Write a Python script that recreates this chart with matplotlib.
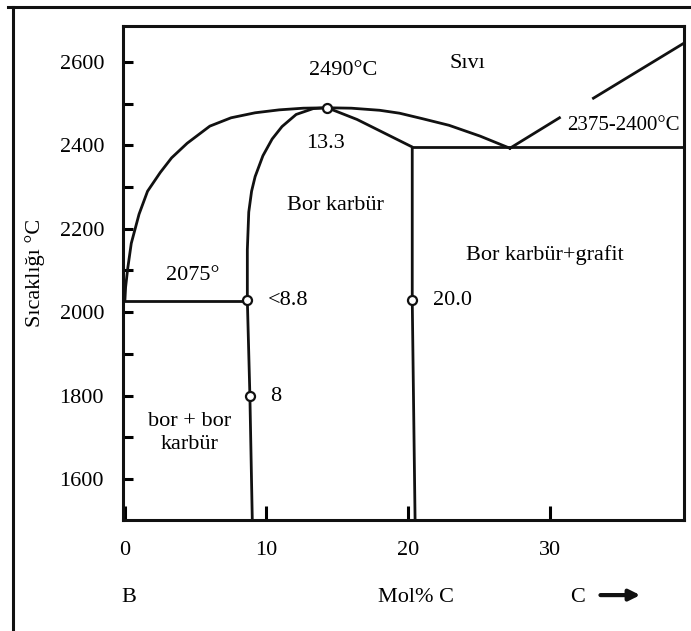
import matplotlib
matplotlib.use("Agg")
import matplotlib.pyplot as plt
from matplotlib.lines import Line2D
from matplotlib.transforms import blended_transform_factory

plt.rcParams['font.family'] = ['Liberation Serif', 'DejaVu Serif']

# B-C phase diagram (mol% C, degrees C)
liq_x = [0.0, 0.05, 0.2, 0.45, 1.0, 1.6, 2.5, 3.3, 4.4, 6.0, 7.5, 9.2, 10.9, 12.6,
         14.3, 16.0, 18.0, 19.4, 21.0, 22.9, 25.1, 27.2]
liq_t = [2028, 2060, 2105, 2165, 2235, 2290, 2335, 2370, 2405, 2446, 2466, 2478, 2485, 2489,
         2490, 2489, 2484, 2477, 2464, 2448, 2422, 2393]

# left boundary of boron carbide field (bottom -> peak)
sol_l_x = [9.0, 8.83, 8.65, 8.65, 8.75, 8.95, 9.2, 9.75, 10.4, 11.1, 12.1, 13.3, 14.3]
sol_l_t = [1502, 1800, 2029, 2150, 2240, 2290, 2325, 2375, 2415, 2445, 2474, 2488, 2490]

# right boundary of boron carbide field (peak -> bottom)
sol_r_x = [14.3, 16.4, 20.3, 20.3, 20.5]
sol_r_t = [2490, 2462, 2396, 2029, 1502]

# eutectic lines
eut_b_x = [0.0, 8.65]
eut_b_t = [2028, 2028]
eut_c_x = [20.3, 39.5]
eut_c_t = [2395, 2395]

# graphite liquidus (drawn with a break)
gr1_x = [27.2, 30.7]
gr1_t = [2393, 2466]
gr2_x = [33.1, 39.5]
gr2_t = [2513, 2645]

# open circle points
mk_x = [14.3, 8.65, 8.83, 20.3]
mk_t = [2490, 2029, 1800, 2029]

y_major = [1600, 1800, 2000, 2200, 2400, 2600]
y_minor = [1700, 1900, 2100, 2300, 2500]
x_ticks = [0, 10, 20, 30]

fig = plt.figure(figsize=(6.91, 6.31), dpi=100)
ax = fig.add_axes([0.1787, 0.1759, 0.8112, 0.7829])

lc = '#111111'
lw = 2.0
ax.plot(liq_x, liq_t, color=lc, lw=lw, solid_joinstyle='round')
ax.plot(sol_l_x, sol_l_t, color=lc, lw=lw, solid_joinstyle='round')
ax.plot(sol_r_x, sol_r_t, color=lc, lw=lw)
ax.plot(eut_b_x, eut_b_t, color=lc, lw=lw)
ax.plot(eut_c_x, eut_c_t, color=lc, lw=lw)
ax.plot(gr1_x, gr1_t, color=lc, lw=lw)
ax.plot(gr2_x, gr2_t, color=lc, lw=lw)
ax.plot(mk_x, mk_t, 'o', ms=6.5, mfc='white', mec=lc, mew=1.6, zorder=5)

ax.set_xlim(-0.1, 39.5)
ax.set_ylim(1502, 2686)

ax.set_yticks(y_major)
ax.set_yticks(y_minor, minor=True)
ax.set_xticks(x_ticks)
ax.tick_params(axis='y', which='both', direction='in', length=7, width=2.2,
               labelsize=16, pad=14, right=False)
ax.tick_params(axis='x', direction='in', length=10, width=2.2,
               labelsize=16, pad=15, top=False)
for s in ax.spines.values():
    s.set_linewidth(2.2)
    s.set_color(lc)

ax.set_ylabel('Sıcaklığı °C', fontsize=16)
ax.yaxis.set_label_coords(-0.14, 0.5)

fs = 16
ax.text(15.4, 2580, '2490°C', fontsize=fs, ha='center', va='center')
ax.text(24.2, 2597, 'Sıvı', fontsize=fs, ha='center', va='center')
ax.text(14.2, 2405, '13.3', fontsize=fs, ha='center', va='center')
ax.text(35.2, 2448, '2375-2400°C', fontsize=15, ha='center', va='center')
ax.text(14.9, 2256, 'Bor karbür', fontsize=fs, ha='center', va='center')
ax.text(4.8, 2089, '2075°', fontsize=fs, ha='center', va='center')
ax.text(10.1, 2029, '<8.8', fontsize=fs, ha='left', va='center')
ax.text(10.25, 1797, '8', fontsize=fs, ha='left', va='center')
ax.text(21.8, 2029, '20.0', fontsize=fs, ha='left', va='center')
ax.text(29.7, 2137, 'Bor karbür+grafit', fontsize=fs, ha='center', va='center')
ax.text(4.6, 1711, 'bor + bor\nkarbür', fontsize=fs, ha='center', va='center',
        linespacing=1.25)

tr = blended_transform_factory(ax.transData, ax.transAxes)
ax.text(0.3, -0.156, 'B', fontsize=fs, ha='center', va='center', transform=tr)
ax.text(20.6, -0.156, 'Mol% C', fontsize=fs, ha='center', va='center', transform=tr)
ax.text(32.0, -0.156, 'C', fontsize=fs, ha='center', va='center', transform=tr)
ax.annotate('', xy=(36.6, -0.152), xytext=(33.4, -0.152), xycoords=tr, textcoords=tr,
            arrowprops=dict(arrowstyle='-|>', lw=3, color=lc, mutation_scale=16),
            annotation_clip=False)

# outer frame of the picture
fig.add_artist(Line2D([8 / 691, 1.0], [1 - 7 / 631, 1 - 7 / 631], color=lc, lw=2.2))
fig.add_artist(Line2D([12.7 / 691, 12.7 / 691], [0.0, 1 - 7 / 631], color=lc, lw=2.2))

fig.savefig('out.png', dpi=100)
